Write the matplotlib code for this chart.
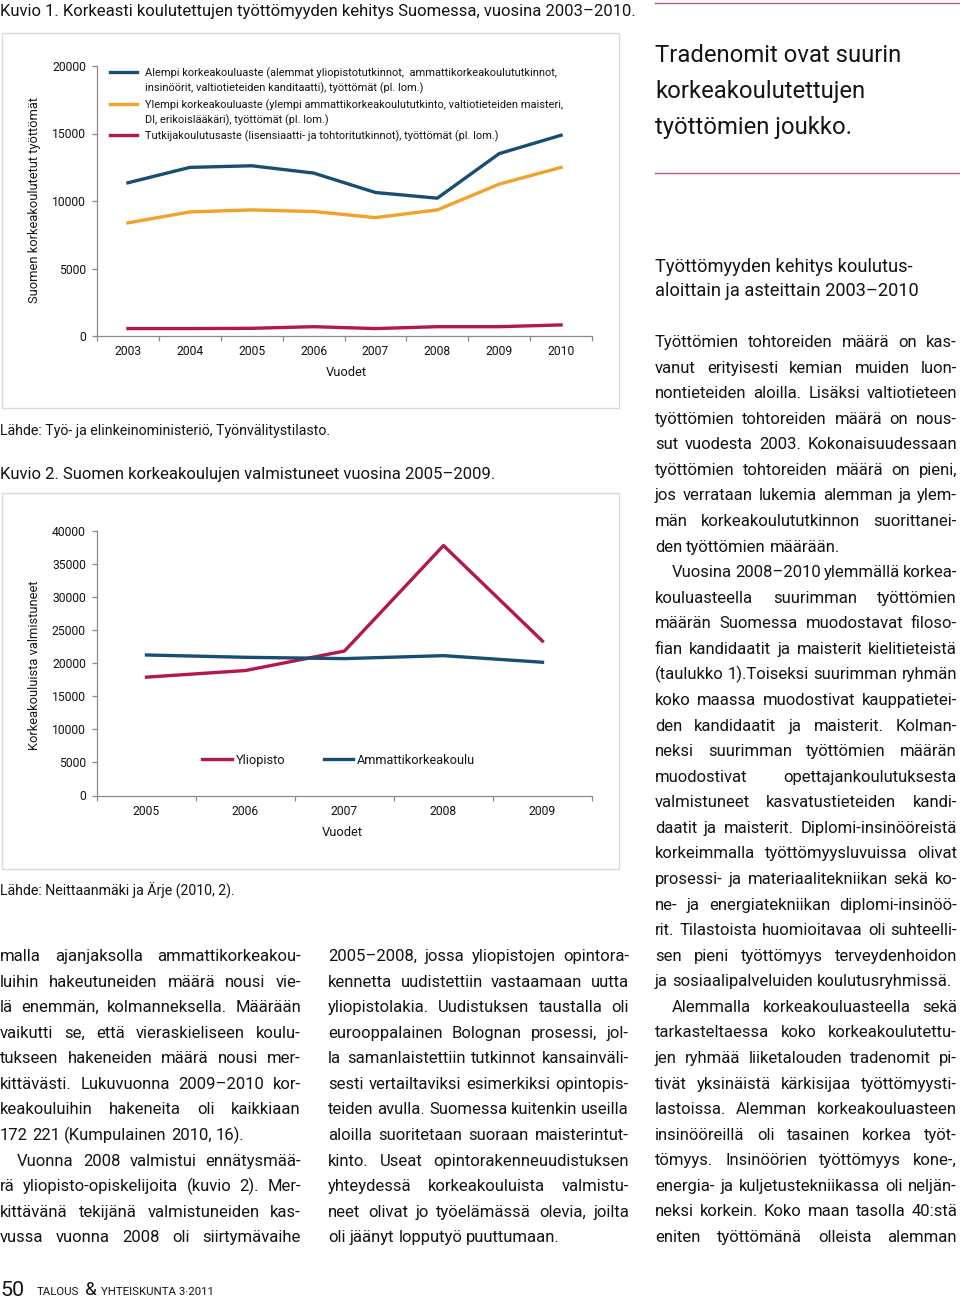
import matplotlib
matplotlib.use('Agg')
import matplotlib.pyplot as plt
from matplotlib import font_manager
from matplotlib.patches import Rectangle
from matplotlib.lines import Line2D
from matplotlib.ticker import NullFormatter

W, H = 960, 1299

_avail = {f.name for f in font_manager.fontManager.ttflist}
FAM = [f for f in ['Liberation Sans Narrow', 'Roboto', 'DejaVu Sans'] if f in _avail]
plt.rcParams['font.family'] = FAM + ['DejaVu Sans']

# ---------------- data ----------------
years_1 = ['2003', '2004', '2005', '2006', '2007', '2008', '2009', '2010']
alempi = [11350, 12490, 12610, 12070, 10630, 10210, 13510, 14870]
ylempi = [8380, 9190, 9340, 9220, 8770, 9340, 11250, 12490]
tutkija = [550, 550, 570, 690, 550, 690, 690, 820]
legend_1 = [
    ['Alempi korkeakouluaste (alemmat yliopistotutkinnot,  ammattikorkeakoulututkinnot,',
     'insinöörit, valtiotieteiden kanditaatti), työttömät (pl. lom.)'],
    ['Ylempi korkeakouluaste (ylempi ammattikorkeakoulututkinto, valtiotieteiden maisteri,',
     'DI, erikoislääkäri), työttömät (pl. lom.)'],
    ['Tutkijakoulutusaste (lisensiaatti- ja tohtoritutkinnot), työttömät (pl. lom.)'],
]
yticks_1 = [0, 5000, 10000, 15000, 20000]
ylabel_1 = 'Suomen korkeakoulutetut työttömät'

years_2 = ['2005', '2006', '2007', '2008', '2009']
yliopisto = [17900, 18900, 21850, 37800, 23350]
amk = [21250, 20900, 20700, 21150, 20150]
legend_2 = ['Yliopisto', 'Ammattikorkeakoulu']
yticks_2 = [0, 5000, 10000, 15000, 20000, 25000, 30000, 35000, 40000]
ylabel_2 = 'Korkeakouluista valmistuneet'
xlabel = 'Vuodet'

title_1 = 'Kuvio 1. Korkeasti koulutettujen työttömyyden kehitys Suomessa, vuosina 2003–2010.'
source_1 = 'Lähde: Työ- ja elinkeinoministeriö, Työnvälitystilasto.'
title_2 = 'Kuvio 2. Suomen korkeakoulujen valmistuneet vuosina 2005–2009.'
source_2 = 'Lähde: Neittaanmäki ja Ärje (2010, 2).'

heading = ['Tradenomit ovat suurin', 'korkeakoulutettujen', 'työttömien joukko.']
subheading = ['Työttömyyden kehitys koulutus-', 'aloittain ja asteittain 2003–2010']

left_lines = [
    'malla ajanjaksolla ammattikorkeakou-',
    'luihin hakeutuneiden määrä nousi vie-',
    'lä enemmän, kolmanneksella. Määrään',
    'vaikutti se, että vieraskieliseen koulu-',
    'tukseen hakeneiden määrä nousi mer-',
    'kittävästi. Lukuvuonna 2009–2010 kor-',
    'keakouluihin hakeneita oli kaikkiaan',
    '172 221 (Kumpulainen 2010, 16).',
    'Vuonna 2008 valmistui ennätysmää-',
    'rä yliopisto-opiskelijoita (kuvio 2). Mer-',
    'kittävänä tekijänä valmistuneiden kas-',
    'vussa vuonna 2008 oli siirtymävaihe',
]
left_ends = {7}
left_indents = {8}

mid_lines = [
    '2005–2008, jossa yliopistojen opintora-',
    'kennetta uudistettiin vastaamaan uutta',
    'yliopistolakia. Uudistuksen taustalla oli',
    'eurooppalainen Bolognan prosessi, jol-',
    'la samanlaistettiin tutkinnot kansainväli-',
    'sesti vertailtaviksi esimerkiksi opintopis-',
    'teiden avulla. Suomessa kuitenkin useilla',
    'aloilla suoritetaan suoraan maisterintut-',
    'kinto. Useat opintorakenneuudistuksen',
    'yhteydessä korkeakouluista valmistu-',
    'neet olivat jo työelämässä olevia, joilta',
    'oli jäänyt lopputyö puuttumaan.',
]
mid_ends = {11}
mid_indents = set()

right_lines = [
    'Työttömien tohtoreiden määrä on kas-',
    'vanut erityisesti kemian muiden luon-',
    'nontieteiden aloilla. Lisäksi valtiotieteen',
    'työttömien tohtoreiden määrä on nous-',
    'sut vuodesta 2003. Kokonaisuudessaan',
    'työttömien tohtoreiden määrä on pieni,',
    'jos verrataan lukemia alemman ja ylem-',
    'män korkeakoulututkinnon suorittanei-',
    'den työttömien määrään.',
    'Vuosina 2008–2010 ylemmällä korkea-',
    'kouluasteella suurimman työttömien',
    'määrän Suomessa muodostavat filoso-',
    'fian kandidaatit ja maisterit kielitieteistä',
    '(taulukko 1).Toiseksi suurimman ryhmän',
    'koko maassa muodostivat kauppatietei-',
    'den kandidaatit ja maisterit. Kolman-',
    'neksi suurimman työttömien määrän',
    'muodostivat opettajankoulutuksesta',
    'valmistuneet kasvatustieteiden kandi-',
    'daatit ja maisterit. Diplomi-insinööreistä',
    'korkeimmalla työttömyysluvuissa olivat',
    'prosessi- ja materiaalitekniikan sekä ko-',
    'ne- ja energiatekniikan diplomi-insinöö-',
    'rit. Tilastoista huomioitavaa oli suhteelli-',
    'sen pieni työttömyys terveydenhoidon',
    'ja sosiaalipalveluiden koulutusryhmissä.',
    'Alemmalla korkeakouluasteella sekä',
    'tarkasteltaessa koko korkeakoulutettu-',
    'jen ryhmää liiketalouden tradenomit pi-',
    'tivät yksinäistä kärkisijaa työttömyysti-',
    'lastoissa. Alemman korkeakouluasteen',
    'insinööreillä oli tasainen korkea työt-',
    'tömyys. Insinöörien työttömyys kone-,',
    'energia- ja kuljetustekniikassa oli neljän-',
    'neksi korkein. Koko maan tasolla 40:stä',
    'eniten työttömänä olleista alemman',
]
right_ends = {8, 25}
right_indents = {9, 26}

footer_num = '50'
footer_parts = ['TALOUS', '&', 'YHTEISKUNTA 3·2011']

# ---------------- style ----------------
BLUE = '#174f73'
ORANGE = '#f2a12c'
RED = '#b3174b'
AXC = '#8a8a8a'
TXT = '#141414'
RULE = '#c9577a'
PANEL = '#dadada'

fig = plt.figure(figsize=(W / 100, H / 100), dpi=100)
fig.patch.set_facecolor('white')
R = fig.canvas.get_renderer()


def fx(p):
    return p / W


def fy(p):
    return 1 - p / H


def width_at(s, size):
    t = fig.text(0, 0, s, fontsize=size)
    w = t.get_window_extent(R).width
    t.remove()
    return w


def fit(s, target):
    return 10.0 * target / width_at(s, 10.0)


def ftext(x, yb, s, size, **kw):
    kw.setdefault('color', TXT)
    kw.setdefault('va', 'baseline')
    return fig.text(fx(x), fy(yb), s, fontsize=size, **kw)


# ---------------- panels ----------------
for (top, bot) in [(33, 408), (493, 869)]:
    fig.patches.append(Rectangle((fx(2), fy(bot)), fx(619) - fx(2), (bot - top) / H,
                                 transform=fig.transFigure, fill=False,
                                 ec=PANEL, lw=1.0, zorder=-1))

tick_size = fit('20000', 34)
label_size = fit(ylabel_1, 206)


def style_axes(ax, cats, yt):
    for s in ['top', 'right']:
        ax.spines[s].set_visible(False)
    for s in ['left', 'bottom']:
        ax.spines[s].set_color(AXC)
        ax.spines[s].set_linewidth(0.9)
    n = len(cats)
    ax.set_xlim(-0.5, n - 0.5)
    ax.set_xticks([i - 0.5 for i in range(n + 1)])
    ax.xaxis.set_major_formatter(NullFormatter())
    ax.set_xticks(range(n), minor=True)
    ax.set_xticklabels(cats, minor=True)
    ax.tick_params(axis='x', which='major', direction='out', length=3.5, color=AXC, width=0.9)
    ax.tick_params(axis='x', which='minor', length=0, pad=6.5, labelsize=tick_size, labelcolor=TXT)
    ax.set_yticks(yt)
    ax.set_yticklabels([str(v) for v in yt])
    ax.tick_params(axis='y', direction='out', length=3.5, color=AXC, width=0.9, pad=4.5,
                   labelsize=tick_size, labelcolor=TXT)
    ax.patch.set_alpha(0)


# ---------------- chart 1 ----------------
ax1 = fig.add_axes([fx(97), fy(336), (592 - 97) / W, (336 - 66) / H])
xs1 = range(len(years_1))
ax1.plot(xs1, alempi, color=BLUE, lw=2.4)
ax1.plot(xs1, ylempi, color=ORANGE, lw=2.4)
ax1.plot(xs1, tutkija, color=RED, lw=2.4)
ax1.set_ylim(0, 20000)
style_axes(ax1, years_1, yticks_1)
ftext(35, 200, ylabel_1, label_size, rotation=90, ha='center', va='center')
ftext(346, 372, xlabel, label_size, ha='center', va='center')

leg_size = fit(legend_1[0][0], 410)
leg_rows = [[72, 87], [104, 119], [135]]
for col, lines, rows in zip([BLUE, ORANGE, RED], legend_1, leg_rows):
    fig.lines.append(Line2D([fx(110), fx(137)], [fy(rows[0])] * 2, transform=fig.transFigure,
                            color=col, lw=2.4))
    for s, r in zip(lines, rows):
        ftext(145, r + 4, s, leg_size, ha='left')

# ---------------- chart 2 ----------------
ax2 = fig.add_axes([fx(97), fy(795.5), (592 - 97) / W, (795.5 - 531) / H])
xs2 = range(len(years_2))
ax2.plot(xs2, yliopisto, color=RED, lw=2.4, label=legend_2[0])
ax2.plot(xs2, amk, color=BLUE, lw=2.4, label=legend_2[1])
ax2.set_ylim(0, 40000)
style_axes(ax2, years_2, yticks_2)
ftext(35, 665, ylabel_2, label_size, rotation=90, ha='center', va='center')
ftext(342, 832, xlabel, label_size, ha='center', va='center')
ax2.legend(loc='center', bbox_to_anchor=(0.488, 0.134), ncol=2, frameon=False,
           fontsize=tick_size * 1.05, handlelength=2.3, handletextpad=0.3, columnspacing=3.0,
           labelcolor=TXT)

# ---------------- captions ----------------
cap_size = fit(title_1, 636)
ftext(0, 16, title_1, cap_size, ha='left')
ftext(0, 479, title_2, cap_size, ha='left')
src_size = fit(source_1, 330)
ftext(0, 435, source_1, src_size, ha='left')
ftext(0, 896, source_2, src_size, ha='left')

# ---------------- right column headings ----------------
for yy in [3, 173]:
    fig.lines.append(Line2D([fx(655), fx(960)], [fy(yy)] * 2, transform=fig.transFigure,
                            color=RULE, lw=1.0))
head_size = fit(heading[0], 247)
for i, s in enumerate(heading):
    ftext(655, 62 + 36 * i, s, head_size, ha='left')
sub_size = fit(subheading[1], 262)
for i, s in enumerate(subheading):
    ftext(655, 272 + 24.5 * i, s, sub_size, ha='left')

# ---------------- body text ----------------
columns = [
    (left_lines, left_ends, left_indents, 0, 301, 961),
    (mid_lines, mid_ends, set(), 328, 629, 961),
    (right_lines, right_ends, right_indents, 655, 957, 347),
]
INDENT = 17
DY = 25.57
MINGAP = 3.2

# choose body font size so the tightest justified line still fits
ratios = []
for lines, ends, inds, x0, x1, yb0 in columns:
    for i, line in enumerate(lines):
        if i in ends:
            continue
        words = line.split(' ')
        w10 = sum(width_at(w, 10.0) for w in words)
        avail = (x1 - x0) - (INDENT if i in inds else 0) - (len(words) - 1) * MINGAP
        ratios.append(avail / w10)
body_size = 10.0 * min(ratios)
space_w = width_at('a a', body_size) - width_at('aa', body_size)

for lines, ends, inds, x0, x1, yb0 in columns:
    for i, line in enumerate(lines):
        yb = yb0 + DY * i
        xs = x0 + (INDENT if i in inds else 0)
        words = line.split(' ')
        ts = [ftext(0, yb, w, body_size, ha='left') for w in words]
        ws = [t.get_window_extent(R).width for t in ts]
        if i in ends or len(words) == 1:
            gap = space_w
        else:
            gap = (x1 - xs - sum(ws)) / (len(words) - 1)
        x = xs
        for t, w in zip(ts, ws):
            t.set_x(fx(x))
            x += w + gap

# ---------------- footer ----------------
ftext(0, 1296, footer_num, fit(footer_num, 24), ha='left')
fs_small = fit(footer_parts[0], 42)
ftext(37, 1295, footer_parts[0], fs_small, ha='left')
ftext(85, 1295, footer_parts[1], fit(footer_parts[1], 12), ha='left')
ftext(101, 1295, footer_parts[2], fs_small, ha='left')

fig.savefig('out.png', dpi=100, facecolor='white')
